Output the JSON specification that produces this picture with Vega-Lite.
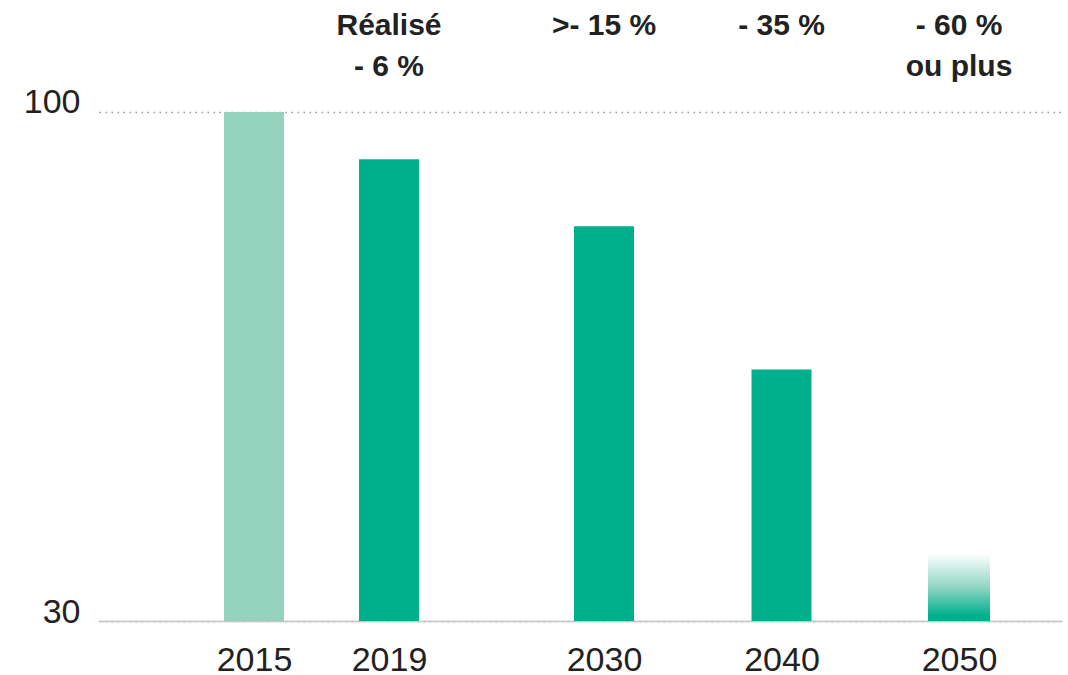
{
  "$schema": "https://vega.github.io/schema/vega-lite/v6.json",
  "width": 963,
  "height": 621,
  "autosize": "none",
  "padding": {"left": 99, "top": 0, "right": 6, "bottom": 54},
  "background": "#ffffff",
  "config": {"view": {"stroke": null}, "font": "Liberation Sans"},
  "data": {
    "values": [
      {"year": 2015, "value": 100, "label": ""},
      {"year": 2019, "value": 93.5, "label": "Réalisé\n- 6 %"},
      {"year": 2030, "value": 84.3, "label": ">- 15 %"},
      {"year": 2040, "value": 64.6, "label": "- 35 %"},
      {"year": 2050, "value": 39.3, "label": "- 60 %\nou plus"}
    ]
  },
  "encoding": {
    "x": {
      "field": "year",
      "type": "quantitative",
      "scale": {
        "domain": [2010.38, 2015, 2019, 2030, 2050, 2055.8],
        "range": [0, 155, 290, 505, 860, 963],
        "zero": false,
        "nice": false
      },
      "axis": {
        "title": null,
        "values": [2015, 2019, 2030, 2040, 2050],
        "format": "d",
        "grid": false,
        "ticks": false,
        "tickSize": 0,
        "domainColor": "#c4c4c4",
        "domainWidth": 1.5,
        "labelFontSize": 34,
        "labelColor": "#222222",
        "labelBaseline": "alphabetic",
        "labelPadding": 49,
        "labelFlush": false,
        "labelOverlap": false
      }
    }
  },
  "layer": [
    {
      "transform": [{"filter": "datum.year != 2050"}],
      "mark": {"type": "bar", "width": 60},
      "encoding": {
        "y": {
          "field": "value",
          "type": "quantitative",
          "scale": {"domain": [30, 115.4], "zero": false, "nice": false},
          "axis": {
            "title": null,
            "values": [30, 100],
            "domain": false,
            "ticks": false,
            "tickSize": 0,
            "grid": true,
            "gridDash": [1.5, 4.5],
            "gridColor": "#999999",
            "gridWidth": 1.6,
            "labelFontSize": 34,
            "labelColor": "#222222",
            "labelBaseline": "alphabetic",
            "labelOffset": 1,
            "labelPadding": 19
          }
        },
        "y2": {"datum": 30},
        "color": {
          "condition": {"test": "datum.year == 2015", "value": "#94d2bd"},
          "value": "#00b08c"
        }
      }
    },
    {
      "transform": [{"filter": "datum.year == 2050"}],
      "mark": {
        "type": "bar",
        "width": 62,
        "color": {
          "gradient": "linear",
          "x1": 0, "y1": 0, "x2": 0, "y2": 1,
          "stops": [
            {"offset": 0, "color": "#ffffff"},
            {"offset": 0.5, "color": "#8fd6c3"},
            {"offset": 0.92, "color": "#00b08c"},
            {"offset": 1, "color": "#00b08c"}
          ]
        }
      },
      "encoding": {
        "y": {"field": "value", "type": "quantitative"},
        "y2": {"datum": 30}
      }
    },
    {
      "mark": {
        "type": "text",
        "font": "Liberation Sans",
        "fontWeight": "bold",
        "fontSize": 30,
        "lineBreak": "\n",
        "lineHeight": 41,
        "align": "center",
        "baseline": "alphabetic",
        "color": "#222222"
      },
      "encoding": {
        "y": {"datum": 110.6},
        "text": {"field": "label"}
      }
    }
  ]
}
